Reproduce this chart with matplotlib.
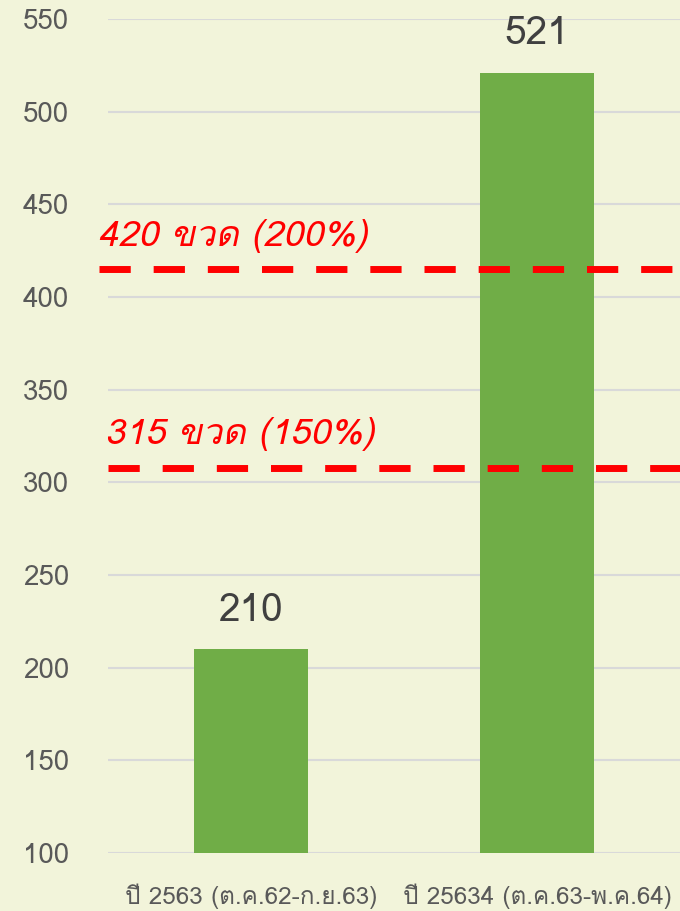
import matplotlib
matplotlib.use('Agg')
import matplotlib.pyplot as plt

# datos
categorias = ["ปี 2563 (ต.ค.62-ก.ย.63)", "ปี 25634 (ต.ค.63-พ.ค.64)"]
valores = [210, 521]
umbrales = [415, 308]
umbral_textos = ["420 ขวด (200%)", "315 ขวด (150%)"]
y_ticks = [100, 150, 200, 250, 300, 350, 400, 450, 500, 550]

fuente = ['Loma', 'Noto Sans', 'Noto Sans Thai Looped', 'DejaVu Sans']
plt.rcParams['font.family'] = fuente

fondo = '#f2f4da'
fig = plt.figure(figsize=(6.8, 9.11), dpi=100, facecolor=fondo)
ax = fig.add_axes([0.159, 0.0637, 0.841, 0.9153])
ax.set_facecolor(fondo)

x = range(len(categorias))
ax.bar(x, valores, width=0.4, color='#70ad47', zorder=2)
for xi, v in zip(x, valores):
    ax.text(xi, v + 11, str(v), ha='center', va='bottom', fontsize=28, color='#404040')

# lineas rojas de referencia
ax.axhline(umbrales[0], xmin=-0.016, xmax=1, color='#ff0000', lw=5, ls=(0, (4.5, 3.3)),
           zorder=3, clip_on=False)
ax.axhline(umbrales[1], color='#ff0000', lw=5, ls=(0, (4.5, 3.3)), zorder=3)
ax.text(-0.535, umbrales[0] + 9, umbral_textos[0], color='#ff0000', fontsize=26,
        style='italic', ha='left', va='bottom')
ax.text(-0.51, umbrales[1] + 9, umbral_textos[1], color='#ff0000', fontsize=26,
        style='italic', ha='left', va='bottom')

ax.set_xlim(-0.5, 1.5)
ax.set_ylim(100, 550)
ax.set_yticks(y_ticks)
ax.yaxis.grid(True, color='#d9d9d9', lw=1.5, zorder=0)
ax.set_xticks(list(x))
ax.set_xticklabels(categorias, fontsize=17.5, color='#595959')
ax.tick_params(axis='y', length=0, pad=28, labelsize=20, labelcolor='#595959')
ax.tick_params(axis='x', length=0, pad=22)
for s in ax.spines.values():
    s.set_visible(False)

plt.savefig("out.png", facecolor=fondo)
